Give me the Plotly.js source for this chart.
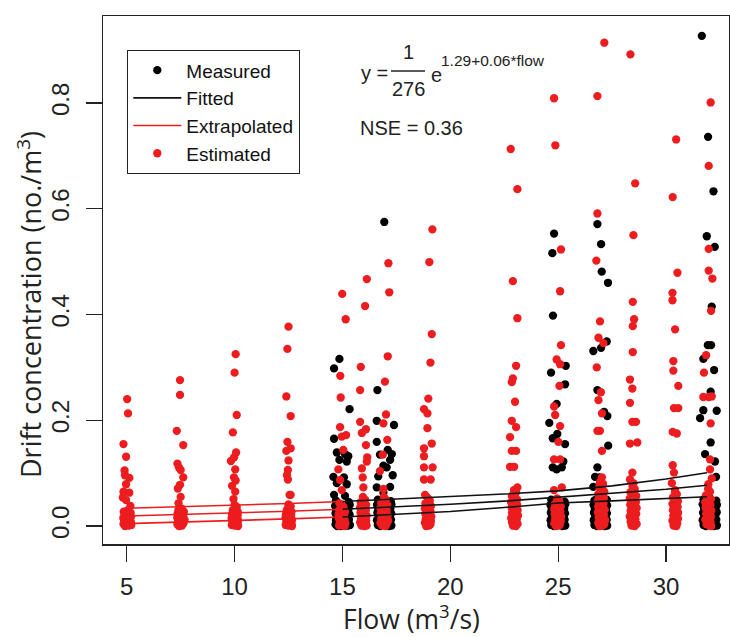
<!DOCTYPE html>
<html>
<head>
<meta charset="utf-8">
<script src="https://cdn.plot.ly/plotly-3.0.1.min.js"></script>
<style>html,body{margin:0;padding:0;background:#fff;}#chart{width:730px;height:637px;}</style>
</head>
<body>
<div id="chart"></div>
<script>
// ---------- DATA ----------
const xTickVals = [5, 10, 15, 20, 25, 30];
const yTickVals = [0, 0.2, 0.4, 0.6, 0.8];
const yTickText = ['0.0', '0.2', '0.4', '0.6', '0.8'];
const xTitle = 'Flow (m<sup>3</sup>/s)';
const yTitle = 'Drift concentration (no./m<sup>3</sup>)';

// Estimated (red) points: flow (jittered) and drift concentration
const estimatedFlow = [
  // flow 5
  5.02,5.06,4.85,4.97,4.90,4.92,5.12,4.97,4.85,5.12,4.82,4.97,5.17,
  4.86,5.02,5.18,4.90,5.06,5.20,4.84,4.98,5.12,4.88,5.04,5.19,4.85,4.95,5.08,5.21,4.92,5.10,
  // flow 7.5
  7.47,7.47,7.32,7.62,7.35,7.42,7.50,7.62,7.47,7.37,7.50,7.40,
  7.40,7.55,7.65,7.36,7.50,7.62,7.34,7.46,7.58,7.68,7.38,7.52,7.64,7.35,7.47,7.60,7.42,7.56,
  // flow 10
  10.05,10.00,10.10,9.92,10.07,9.98,9.83,10.03,9.97,10.05,9.88,10.03,9.95,
  10.00,10.10,9.92,10.08,10.15,9.88,10.00,10.14,9.86,9.98,10.10,10.16,9.90,10.04,10.14,9.87,10.00,10.12,10.16,
  // flow 12.5
  12.50,12.45,12.40,12.60,12.45,12.40,12.60,12.50,12.47,12.43,12.47,12.55,12.60,12.50,
  12.50,12.60,12.42,12.56,12.64,12.38,12.50,12.62,12.36,12.47,12.58,12.66,12.40,12.53,12.64,12.37,12.50,12.62,12.66,
  // flow 15
  14.99,15.15,14.90,14.92,14.89,14.97,15.17,15.04,14.81,14.89,14.97,14.86,
  14.95,15.05,14.85,15.00,15.12,14.82,14.95,15.08,14.84,14.98,15.10,14.88,15.02,15.14,14.85,14.97,15.10,
  // flow 16
  16.13,16.05,15.85,15.82,15.82,16.09,15.90,16.09,16.15,16.13,15.90,15.94,15.97,
  15.95,16.05,15.85,16.00,16.10,15.82,15.95,16.08,15.84,15.98,16.12,15.86,16.02,16.10,15.82,15.95,16.08,15.88,16.02,16.12,
  // flow 17
  17.13,17.17,17.10,16.97,17.02,16.90,17.08,16.87,16.74,16.90,
  16.92,17.02,16.80,16.95,17.08,16.76,16.90,17.05,16.78,16.93,17.10,16.80,16.98,17.12,16.76,16.90,17.05,16.84,17.00,
  // flow 19
  19.17,19.03,19.14,19.08,18.98,18.78,18.94,18.94,19.14,18.78,18.78,18.78,19.18,18.78,19.09,18.83,
  18.95,19.05,18.85,19.00,19.10,18.82,18.95,19.08,18.84,18.98,19.12,18.86,19.02,19.10,18.82,18.95,19.08,18.88,19.02,
  // flow 23
  22.80,23.11,22.90,23.11,23.05,22.90,22.85,23.00,22.85,23.05,22.77,22.85,23.05,22.77,22.96,23.11,22.92,
  22.95,23.05,22.85,23.00,23.10,22.82,22.95,23.10,22.84,22.98,23.12,22.86,23.02,23.14,22.82,22.95,23.08,22.86,23.00,23.12,22.90,23.04,
  // flow 25
  24.81,24.87,25.13,25.09,25.13,24.93,25.09,25.06,24.81,24.86,25.09,25.01,24.81,25.09,24.81,25.17,
  24.95,25.05,24.85,25.00,25.12,24.82,24.95,25.10,24.84,24.98,25.14,24.86,25.02,25.12,24.82,24.96,25.08,24.90,25.04,
  // flow 27
  27.14,26.82,26.82,26.77,26.94,26.87,27.10,26.79,26.98,26.87,27.03,26.82,26.94,27.03,27.03,26.94,26.94,27.03,
  26.98,27.08,26.90,27.04,27.14,26.86,27.00,27.12,26.84,26.96,27.10,26.86,27.02,27.16,26.84,26.98,27.12,26.88,27.04,27.18,26.86,27.00,27.14,26.92,27.06,
  // flow 28.5
  28.35,28.57,28.49,28.46,28.52,28.46,28.46,28.33,28.44,28.33,28.44,28.61,28.33,28.67,28.44,28.33,28.49,
  28.45,28.55,28.35,28.50,28.62,28.32,28.45,28.60,28.34,28.48,28.64,28.36,28.52,28.62,28.32,28.45,28.58,28.36,28.50,28.64,28.40,28.55,
  // flow 30.4
  30.47,30.31,30.53,30.30,30.30,30.42,30.34,30.34,30.57,30.37,30.57,30.31,30.50,30.31,30.37,30.27,30.42,
  30.42,30.50,30.32,30.46,30.55,30.30,30.42,30.54,30.32,30.45,30.56,30.34,30.48,30.56,30.30,30.42,30.52,30.35,30.48,
  // flow 32
  32.07,31.98,31.98,31.98,32.15,32.09,31.86,31.76,31.73,31.98,32.12,32.07,32.04,32.04,32.12,31.96,
  31.95,32.04,31.85,32.00,32.08,31.82,31.95,32.06,31.84,31.98,32.10,31.86,32.00,32.08,31.82,31.95,32.06,31.88,32.02,32.10
];
const estimatedConc = [
  // flow 5
  0.240,0.213,0.155,0.131,0.105,0.096,0.091,0.079,0.065,0.063,0.054,0.049,0.038,
  0.027,0.029,0.025,0.021,0.022,0.018,0.015,0.016,0.014,0.010,0.009,0.008,0.004,0.003,0.005,0.002,0.000,0.001,
  // flow 7.5
  0.276,0.248,0.180,0.153,0.118,0.111,0.106,0.092,0.078,0.071,0.055,0.043,
  0.031,0.033,0.027,0.024,0.022,0.020,0.016,0.015,0.017,0.012,0.009,0.008,0.006,0.003,0.002,0.004,0.000,0.001,
  // flow 10
  0.325,0.290,0.210,0.177,0.139,0.130,0.123,0.107,0.092,0.086,0.076,0.065,0.051,
  0.040,0.036,0.030,0.031,0.026,0.022,0.023,0.020,0.015,0.014,0.016,0.011,0.008,0.007,0.005,0.002,0.001,0.003,0.000,
  // flow 12.5
  0.377,0.335,0.245,0.208,0.159,0.142,0.147,0.124,0.106,0.096,0.088,0.059,0.059,0.037,
  0.041,0.037,0.030,0.032,0.027,0.022,0.024,0.021,0.016,0.015,0.017,0.012,0.008,0.007,0.006,0.002,0.001,0.003,0.000,
  // flow 15
  0.439,0.391,0.284,0.243,0.187,0.169,0.172,0.144,0.107,0.087,0.068,0.043,
  0.040,0.036,0.030,0.031,0.027,0.022,0.023,0.020,0.014,0.015,0.012,0.007,0.008,0.005,0.001,0.002,0.000,
  // flow 16
  0.467,0.416,0.301,0.257,0.197,0.183,0.176,0.153,0.130,0.122,0.109,0.092,0.073,
  0.055,0.050,0.045,0.044,0.040,0.035,0.034,0.030,0.025,0.024,0.020,0.015,0.016,0.010,0.007,0.006,0.004,0.001,0.000,0.001,
  // flow 17
  0.497,0.442,0.321,0.273,0.211,0.194,0.163,0.135,0.104,0.070,
  0.055,0.050,0.044,0.043,0.040,0.034,0.033,0.030,0.024,0.023,0.020,0.014,0.013,0.010,0.006,0.005,0.004,0.001,0.000,
  // flow 19
  0.561,0.499,0.363,0.309,0.241,0.221,0.213,0.185,0.156,0.147,0.132,0.111,0.111,0.088,0.088,0.059,
  0.053,0.048,0.043,0.042,0.038,0.033,0.032,0.028,0.023,0.022,0.018,0.013,0.014,0.009,0.006,0.005,0.003,0.000,0.001,
  // flow 23
  0.713,0.637,0.463,0.393,0.303,0.279,0.272,0.235,0.199,0.187,0.168,0.142,0.142,0.112,0.112,0.073,0.059,
  0.068,0.064,0.057,0.055,0.050,0.045,0.044,0.040,0.035,0.034,0.030,0.025,0.024,0.020,0.015,0.014,0.012,0.007,0.006,0.004,0.001,0.000,
  // flow 25
  0.809,0.720,0.523,0.444,0.342,0.315,0.306,0.265,0.226,0.210,0.189,0.159,0.126,0.126,0.068,0.073,
  0.052,0.047,0.042,0.041,0.037,0.032,0.031,0.027,0.022,0.021,0.018,0.013,0.012,0.009,0.005,0.004,0.003,0.000,0.001,
  // flow 27
  0.914,0.813,0.591,0.502,0.387,0.356,0.346,0.300,0.253,0.238,0.213,0.180,0.180,0.142,0.092,0.083,0.073,0.055,
  0.085,0.080,0.073,0.070,0.065,0.060,0.058,0.053,0.048,0.046,0.042,0.037,0.035,0.031,0.026,0.024,0.021,0.016,0.014,0.011,0.006,0.005,0.003,0.000,0.001,
  // flow 28.5
  0.892,0.648,0.550,0.424,0.391,0.378,0.329,0.277,0.260,0.233,0.197,0.197,0.156,0.158,0.101,0.088,0.081,
  0.075,0.070,0.064,0.062,0.057,0.052,0.050,0.045,0.040,0.038,0.034,0.029,0.027,0.023,0.018,0.016,0.013,0.008,0.006,0.004,0.001,0.000,
  // flow 30.4
  0.731,0.622,0.479,0.441,0.427,0.372,0.312,0.294,0.265,0.223,0.223,0.178,0.175,0.115,0.101,0.081,0.068,
  0.064,0.060,0.054,0.052,0.047,0.042,0.040,0.036,0.030,0.029,0.025,0.020,0.018,0.014,0.010,0.008,0.005,0.001,0.000,
  // flow 32
  0.801,0.681,0.524,0.483,0.468,0.407,0.323,0.290,0.244,0.244,0.245,0.194,0.126,0.107,0.090,0.079,
  0.070,0.065,0.058,0.056,0.051,0.045,0.044,0.040,0.034,0.033,0.029,0.023,0.022,0.018,0.012,0.011,0.008,0.003,0.001,0.000
];

// Measured (black) points
const measuredFlow = [
  // flow 15
  14.86,14.61,15.33,14.61,14.74,15.12,15.27,14.86,15.20,14.58,15.07,14.74,15.20,14.61,15.12,
  14.70,15.30,14.66,15.34,14.72,15.28,14.68,15.33,14.75,15.25,14.70,15.30,14.80,15.22,14.68,15.35,14.76,15.26,14.90,15.15,
  // flow 17
  16.94,16.62,16.59,17.39,16.59,17.10,17.29,16.74,17.21,16.90,17.05,17.33,16.66,16.59,17.21,16.90,
  16.64,17.24,16.60,17.27,16.66,17.22,16.62,17.26,16.68,17.20,16.60,17.25,16.70,17.18,16.64,17.27,16.75,17.15,
  // flow 25
  24.81,24.73,24.76,25.35,24.67,25.32,24.93,24.59,24.96,24.75,25.32,25.24,24.75,24.93,25.17,
  24.68,25.30,24.64,25.33,24.70,25.28,24.66,25.32,24.72,25.26,24.65,25.30,24.75,25.22,24.68,25.33,24.80,25.20,
  // flow 27
  26.82,26.99,27.02,27.31,27.25,26.63,26.99,26.82,27.28,27.13,27.32,26.82,26.71,26.91,26.63,26.71,
  26.68,27.25,26.64,27.27,26.70,27.22,26.66,27.26,26.72,27.20,26.65,27.25,26.75,27.18,26.68,27.27,26.80,27.15,
  // flow 32
  31.66,31.95,32.20,31.89,32.26,32.12,31.94,32.09,31.73,32.23,32.07,31.73,31.58,32.35,32.07,31.81,32.27,32.32,
  31.74,32.33,31.70,32.36,31.76,32.30,31.72,32.35,31.78,32.28,31.70,32.33,31.80,32.25,31.74,32.36,31.84,32.22
];
const measuredConc = [
  // flow 15
  0.316,0.298,0.221,0.165,0.139,0.136,0.132,0.125,0.122,0.093,0.092,0.081,0.079,0.059,0.057,
  0.048,0.045,0.038,0.040,0.030,0.032,0.024,0.022,0.017,0.018,0.011,0.012,0.006,0.007,0.003,0.002,0.000,0.001,0.000,0.001,
  // flow 17
  0.575,0.257,0.199,0.191,0.159,0.144,0.136,0.135,0.125,0.114,0.111,0.096,0.094,0.073,0.074,0.063,
  0.050,0.047,0.040,0.041,0.032,0.033,0.025,0.024,0.018,0.017,0.011,0.012,0.006,0.007,0.002,0.001,0.000,0.000,
  // flow 25
  0.553,0.516,0.398,0.303,0.290,0.268,0.231,0.195,0.174,0.166,0.155,0.122,0.111,0.107,0.111,
  0.050,0.046,0.040,0.041,0.032,0.033,0.025,0.024,0.018,0.017,0.011,0.012,0.006,0.007,0.002,0.001,0.000,0.000,
  // flow 27
  0.571,0.533,0.481,0.460,0.349,0.331,0.337,0.257,0.208,0.216,0.152,0.111,0.093,0.092,0.074,0.049,
  0.048,0.050,0.040,0.039,0.032,0.031,0.025,0.024,0.018,0.017,0.011,0.012,0.006,0.007,0.002,0.001,0.000,0.000,
  // flow 32
  0.927,0.736,0.633,0.548,0.528,0.415,0.342,0.342,0.316,0.295,0.254,0.219,0.204,0.218,0.158,0.136,0.122,0.093,
  0.050,0.048,0.041,0.040,0.033,0.032,0.025,0.026,0.018,0.019,0.011,0.012,0.006,0.007,0.002,0.001,0.000,0.000
];

// Fitted curves (measured flow range) and extrapolated curves (low flows)
const fittedFlow   = [15, 17.5, 20, 22.5, 25, 27.5, 30, 31.9];
const fittedUpper  = [0.0463, 0.0508, 0.0553, 0.0605, 0.0665, 0.0760, 0.0890, 0.1008];
const fittedMid    = [0.0318, 0.0363, 0.0413, 0.0470, 0.0545, 0.0610, 0.0695, 0.0770];
const fittedLower  = [0.0172, 0.0218, 0.0275, 0.0350, 0.0435, 0.0475, 0.0520, 0.0554];
const extrapFlow   = [5, 7.5, 10, 12.5, 15];
const extrapUpper  = [0.0335, 0.0361, 0.0390, 0.0425, 0.0463];
const extrapMid    = [0.0189, 0.0215, 0.0245, 0.0280, 0.0318];
const extrapLower  = [0.0045, 0.0072, 0.0102, 0.0135, 0.0172];

// ---------- helpers ----------
function joinCurves(xs, curves) {
  const X = [], Y = [];
  curves.forEach((c, i) => {
    if (i > 0) { X.push(null); Y.push(null); }
    xs.forEach((v, j) => { X.push(v); Y.push(c[j]); });
  });
  return {X, Y};
}
const fit = joinCurves(fittedFlow, [fittedUpper, fittedMid, fittedLower]);
const ext = joinCurves(extrapFlow, [extrapUpper, extrapMid, extrapLower]);

const RED = '#ec1c1f';
const MS = 8.3;
const traces = [
  {type:'scatter', mode:'markers', name:'Measured', x:measuredFlow, y:measuredConc,
   marker:{color:'#000', size:MS}, legendrank:1},
  {type:'scatter', mode:'markers', name:'Estimated', x:estimatedFlow, y:estimatedConc,
   marker:{color:RED, size:MS}, legendrank:4},
  {type:'scatter', mode:'lines', name:'Fitted', x:fit.X, y:fit.Y, connectgaps:false,
   line:{color:'#111', width:1.6}, legendrank:2},
  {type:'scatter', mode:'lines', name:'Extrapolated', x:ext.X, y:ext.Y, connectgaps:false,
   line:{color:RED, width:1.6}, legendrank:3}
];

// pixel -> paper helpers for the text block (plot area 103..729 x 16..544)
const PL = 103, PW = 626, PT = 16, PH = 528;
const px = v => (v - PL) / PW;
const py = v => (PT + PH - v) / PH;
const TXT = {family:'Liberation Sans, Arial, sans-serif', size:20, color:'#222'};
const TITLEFONT = {family:'Open Sans, sans-serif', size:26.5, color:'#222'};

const layout = {
  width:730, height:637,
  margin:{l:PL, r:730-PL-PW, t:PT, b:637-PT-PH, pad:0},
  paper_bgcolor:'#fff', plot_bgcolor:'#fff',
  showlegend:true,
  legend:{x:px(127), y:py(50), xanchor:'left', yanchor:'top',
          bordercolor:'#222', borderwidth:1.3, bgcolor:'#fff',
          font:{family:'Liberation Sans, Arial, sans-serif', size:19, color:'#111'},
          itemwidth:48, tracegroupgap:0},
  xaxis:{range:[3.90, 32.92], tickvals:xTickVals, ticks:'outside', ticklen:16, tickwidth:1.3,
         tickcolor:'#222', showline:true, mirror:true, linecolor:'#222', linewidth:1.5,
         showgrid:false, zeroline:false, ticklabelstandoff:5,
         tickfont:{family:'Liberation Sans, Arial, sans-serif', size:24, color:'#222'}},
  yaxis:{range:[-0.034, 0.9645], tickvals:yTickVals, ticktext:yTickText, tickangle:-90,
         ticks:'outside', ticklen:16, tickwidth:1.3, tickcolor:'#222',
         showline:true, mirror:true, linecolor:'#222', linewidth:1.5,
         showgrid:false, zeroline:false, ticklabelstandoff:7,
         tickfont:{family:'Liberation Sans, Arial, sans-serif', size:24, color:'#222'}},
  annotations:[
    // axis titles
    {xref:'paper', yref:'paper', x:px(411), y:py(617), xanchor:'center', yanchor:'middle',
     text:xTitle, showarrow:false, font:TITLEFONT},
    {xref:'paper', yref:'paper', x:px(29), y:py(305), xanchor:'center', yanchor:'middle', textangle:-90,
     text:yTitle, showarrow:false, font:{family:'Open Sans, sans-serif', size:27, color:'#222'}},
    // fitted equation
    {xref:'paper', yref:'paper', x:px(359), y:py(73), xanchor:'left', yanchor:'middle', text:'y =', showarrow:false, font:TXT},
    {xref:'paper', yref:'paper', x:px(408), y:py(52), xanchor:'center', yanchor:'middle', text:'1', showarrow:false, font:TXT},
    {xref:'paper', yref:'paper', x:px(408), y:py(89), xanchor:'center', yanchor:'middle', text:'276', showarrow:false, font:TXT},
    {xref:'paper', yref:'paper', x:px(429), y:py(75), xanchor:'left', yanchor:'middle', text:'e', showarrow:false, font:TXT},
    {xref:'paper', yref:'paper', x:px(439), y:py(61), xanchor:'left', yanchor:'middle', text:'1.29+0.06*flow', showarrow:false,
     font:{family:'Liberation Sans, Arial, sans-serif', size:15.5, color:'#222'}},
    {xref:'paper', yref:'paper', x:px(358), y:py(128), xanchor:'left', yanchor:'middle', text:'NSE = 0.36', showarrow:false, font:TXT}
  ],
  shapes:[
    {type:'line', xref:'paper', yref:'paper', x0:px(391), x1:px(425), y0:py(71), y1:py(71), line:{color:'#222', width:1.3}}
  ]
};

Plotly.newPlot('chart', traces, layout, {staticPlot:true, displayModeBar:false});
</script>
</body>
</html>
